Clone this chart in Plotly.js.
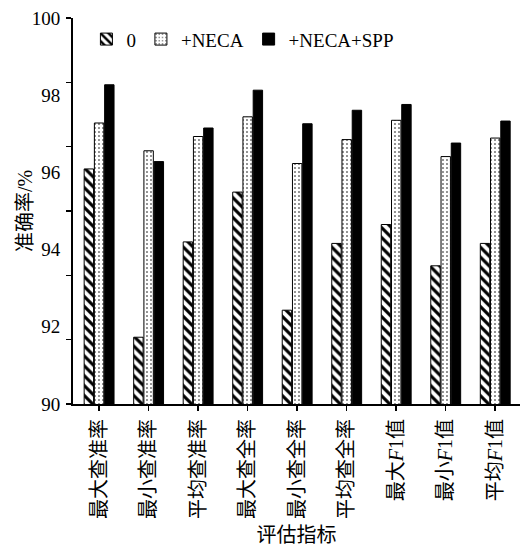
<!DOCTYPE html>
<html>
<head>
<meta charset="utf-8">
<script src="https://cdn.plot.ly/plotly-3.0.1.min.js"></script>
<style>html,body{margin:0;padding:0;background:#fff;}#chart{width:527px;height:550px;}</style>
</head>
<body>
<div id="chart"></div>
<script>
// ---- data ----
const categories = ['最大查准率','最小查准率','平均查准率','最大查全率','最小查全率','平均查全率','最大F1值','最小F1值','平均F1值'];
const tickLabels = ['最大查准率','最小查准率','平均查准率','最大查全率','最小查全率','平均查全率','最大<i>F</i>1值','最小<i>F</i>1值','平均<i>F</i>1值'];
const seriesNames = ['0','+NECA','+NECA+SPP'];
const base  = [96.09, 91.73, 94.20, 95.49, 92.43, 94.16, 94.65, 93.58, 94.16];
const neca  = [97.28, 96.56, 96.93, 97.44, 96.23, 96.85, 97.35, 96.41, 96.89];
const necaSpp = [98.27, 96.28, 97.15, 98.13, 97.26, 97.61, 97.76, 96.76, 97.33];
const yRange = [90, 100];
const yLabelVals = [90, 92, 94, 96, 98, 100];
const yTickVals = [90, 91.6667, 93.3333, 95, 96.6667, 98.3333, 100];

const FONT = 'Liberation Serif, Times New Roman, Noto Sans CJK SC, serif';
const line = {color: '#000', width: 1};

const traces = [
  {type: 'bar', name: seriesNames[0], x: categories, y: base,
   marker: {color: '#fff', line: line, pattern: {shape: '\\', fgcolor: '#000', bgcolor: '#fff', size: 7, solidity: 0.45, fillmode: 'replace'}}},
  {type: 'bar', name: seriesNames[1], x: categories, y: neca,
   marker: {color: '#fff', line: line, pattern: {shape: '.', fgcolor: '#000', bgcolor: '#fff', size: 4, solidity: 0.12, fillmode: 'replace'}}},
  {type: 'bar', name: seriesNames[2], x: categories, y: necaSpp,
   marker: {color: '#000', line: line}},
  // invisible trace to host the y tick labels on a second axis
  {type: 'scatter', x: [categories[0]], y: [90], yaxis: 'y2', mode: 'markers',
   marker: {opacity: 0}, showlegend: false, hoverinfo: 'skip'}
];

const layout = {
  width: 527, height: 550,
  margin: {l: 73, r: 7, t: 18, b: 146},
  paper_bgcolor: '#fff', plot_bgcolor: '#fff',
  font: {family: FONT, size: 18, color: '#000'},
  barmode: 'group', bargap: 0.38, bargroupgap: 0.08,
  showlegend: true,
  legend: {orientation: 'h', x: 0.03, xanchor: 'left', y: 0.945, yanchor: 'middle',
           font: {family: FONT, size: 19}, bgcolor: 'rgba(0,0,0,0)', itemwidth: 30,
           traceorder: 'normal'},
  xaxis: {type: 'category', categoryorder: 'array', categoryarray: categories,
          tickmode: 'array', tickvals: categories, ticktext: tickLabels,
          tickangle: -90, ticks: 'outside', ticklen: 5, tickwidth: 1.5, tickcolor: '#000',
          showline: true, linecolor: '#000', linewidth: 2, showgrid: false, zeroline: false,
          tickfont: {family: FONT, size: 20},
          title: {text: '评估指标', font: {family: FONT, size: 20}, standoff: 10},
          automargin: false},
  yaxis: {range: yRange, tickmode: 'array', tickvals: yTickVals, showticklabels: false,
          ticks: 'outside', ticklen: 5, tickwidth: 1.5, tickcolor: '#000',
          showline: true, linecolor: '#000', linewidth: 2, showgrid: false, zeroline: false,
          title: {text: '准确率/%', font: {family: FONT, size: 20}, standoff: 28},
          automargin: false},
  yaxis2: {range: yRange, overlaying: 'y', side: 'left', tickmode: 'array', tickvals: yLabelVals,
           ticks: 'outside', ticklen: 8, tickcolor: 'rgba(0,0,0,0)', showline: false, showgrid: false,
           zeroline: false, tickfont: {family: FONT, size: 19}, automargin: false}
};

Plotly.newPlot('chart', traces, layout, {displayModeBar: false, staticPlot: true});
</script>
</body>
</html>
